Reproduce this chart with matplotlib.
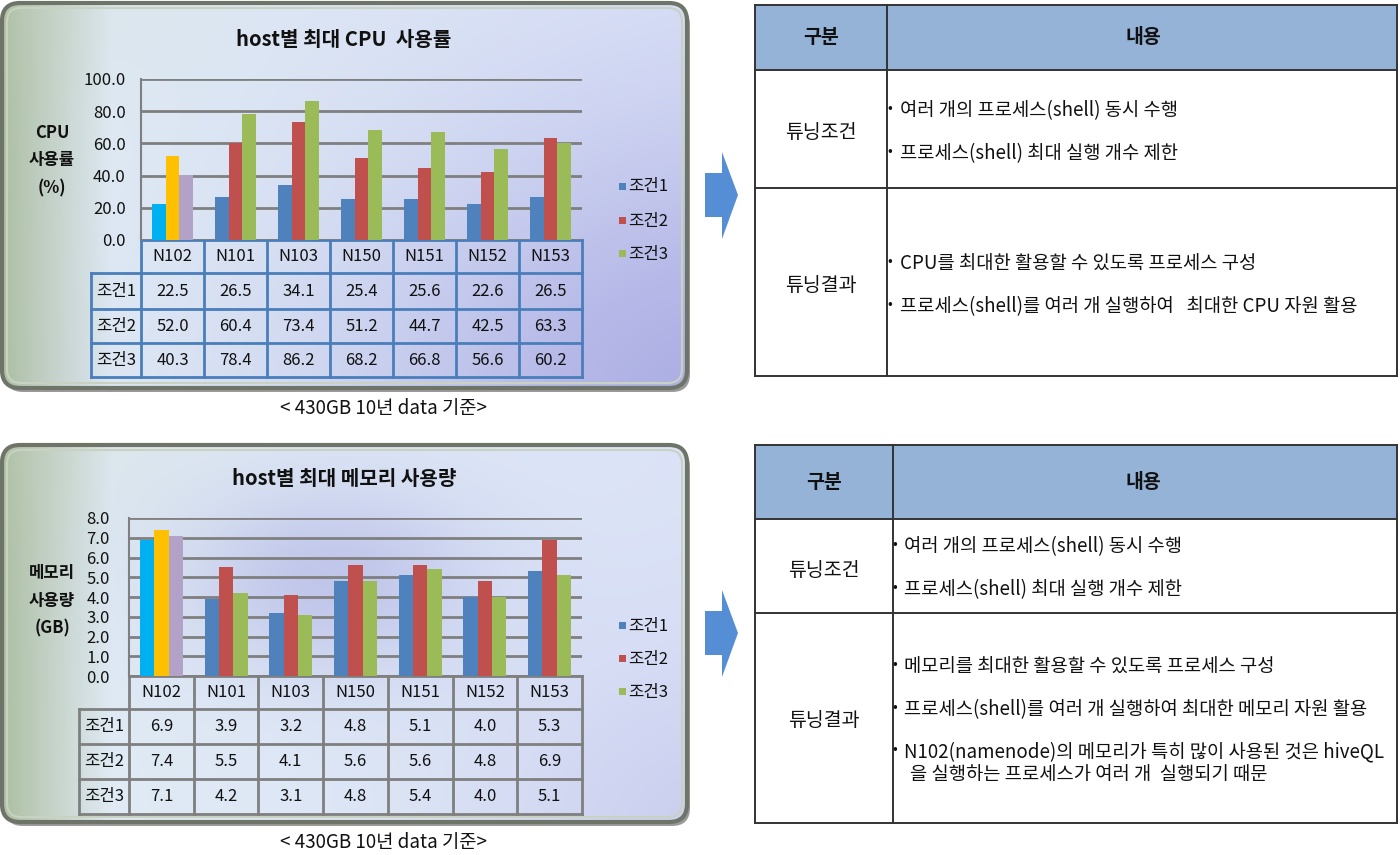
import numpy as np
import matplotlib
matplotlib.use('Agg')
import matplotlib.pyplot as plt
from matplotlib.patches import FancyBboxPatch, Rectangle, Polygon

plt.rcParams['font.family'] = ['Noto Sans CJK KR', 'DejaVu Sans']

# ---------------- data ----------------
hosts = ['N102', 'N101', 'N103', 'N150', 'N151', 'N152', 'N153']
series = ['조건1', '조건2', '조건3']
cpu_c1 = [22.5, 26.5, 34.1, 25.4, 25.6, 22.6, 26.5]
cpu_c2 = [52.0, 60.4, 73.4, 51.2, 44.7, 42.5, 63.3]
cpu_c3 = [40.3, 78.4, 86.2, 68.2, 66.8, 56.6, 60.2]
mem_c1 = [6.9, 3.9, 3.2, 4.8, 5.1, 4.0, 5.3]
mem_c2 = [7.4, 5.5, 4.1, 5.6, 5.6, 4.8, 6.9]
mem_c3 = [7.1, 4.2, 3.1, 4.8, 5.4, 4.0, 5.1]
cpu_ticks = [0, 20, 40, 60, 80, 100]
mem_ticks = [0, 1, 2, 3, 4, 5, 6, 7, 8]

cpu_title = 'host별 최대 CPU  사용률'
mem_title = 'host별 최대 메모리 사용량'
cpu_ylabel = ['CPU', '사용률', '(%)']
mem_ylabel = ['메모리', '사용량', '(GB)']
caption = '< 430GB 10년 data 기준>'

tbl_head = ['구분', '내용']
tbl_rows = ['튜닝조건', '튜닝결과']
cond_lines = ['여러 개의 프로세스(shell) 동시 수행', '프로세스(shell) 최대 실행 개수 제한']
cpu_result_lines = ['CPU를 최대한 활용할 수 있도록 프로세스 구성',
                    '프로세스(shell)를 여러 개 실행하여   최대한 CPU 자원 활용']
mem_result_lines = ['메모리를 최대한 활용할 수 있도록 프로세스 구성',
                    '프로세스(shell)를 여러 개 실행하여 최대한 메모리 자원 활용',
                    'N102(namenode)의 메모리가 특히 많이 사용된 것은 hiveQL',
                    '을 실행하는 프로세스가 여러 개  실행되기 때문']

series_colors = ['#4F81BD', '#C0504D', '#9BBB59']
highlight_colors = ['#00B0F0', '#FFC000', '#B3A2C7']

FS_CHART = 12
FS_TBL = 13.5

# ---------------- figure ----------------
W, H = 1400, 855
fig = plt.figure(figsize=(14, 8.55), dpi=100)
fig.patch.set_facecolor('white')
bg = fig.add_axes([0, 0, 1, 1])
bg.set_xlim(0, W)
bg.set_ylim(H, 0)
bg.axis('off')


def px_axes(x0, y0, x1, y1):
    return fig.add_axes([x0 / W, 1 - y1 / H, (x1 - x0) / W, (y1 - y0) / H])


def panel(x0, y0, x1, y1, glows):
    w = int(x1 - x0)
    h = int(y1 - y0)
    u = np.broadcast_to(np.linspace(0, 1, w)[None, :], (h, w))
    v = np.broadcast_to(np.linspace(0, 1, h)[:, None], (h, w))
    G = np.array([0.68, 0.75, 0.64])
    M = np.array([0.88, 0.92, 0.96])
    B = np.array([0.86, 0.89, 0.97])
    t = np.clip(u / 0.16, 0, 1)[..., None]
    s = np.clip((u - 0.16) / 0.84, 0, 1)[..., None]
    img = np.where(u[..., None] < 0.16, G * (1 - t) + M * t, M * (1 - s) + B * s)
    for cx, cy, sx, sy, wgt, col in glows:
        g = wgt * np.exp(-(((u - cx) / sx) ** 2 + ((v - cy) / sy) ** 2))[..., None]
        img = img * (1 - g) + np.array(col) * g
    sh = FancyBboxPatch((x0 + 3, y0 + 4), x1 - x0, y1 - y0,
                        boxstyle='round,pad=0,rounding_size=18',
                        fc='#9a9a9a', ec='none', zorder=0.5)
    bg.add_patch(sh)
    im = bg.imshow(np.clip(img, 0, 1), extent=(x0, x1, y1, y0), aspect='auto',
                   interpolation='bilinear', zorder=1)
    clip = FancyBboxPatch((x0, y0), x1 - x0, y1 - y0,
                          boxstyle='round,pad=0,rounding_size=18',
                          transform=bg.transData, fc='none', ec='none')
    bg.add_patch(clip)
    im.set_clip_path(clip)
    bg.add_patch(FancyBboxPatch((x0, y0), x1 - x0, y1 - y0,
                                boxstyle='round,pad=0,rounding_size=18',
                                fc='none', ec='#6f7468', lw=3, zorder=2))
    bg.add_patch(FancyBboxPatch((x0 + 5, y0 + 5), x1 - x0 - 10, y1 - y0 - 10,
                                boxstyle='round,pad=0,rounding_size=14',
                                fc='none', ec='#c9d2c0', lw=1.5, zorder=2))
    bg.set_xlim(0, W)
    bg.set_ylim(H, 0)


def chart(px0, px1, py0, py1, lab_x, row_y, c1, c2, c3, ticks, border,
          title, title_y, ylabel, ylab_y, legend_y, tick_pad):
    ax = px_axes(px0, py0, px1, py1)
    ax.set_facecolor('none')
    x = np.arange(len(hosts))
    bw = 0.222
    for i, vals in enumerate([c1, c2, c3]):
        cols = [highlight_colors[i]] + [series_colors[i]] * (len(hosts) - 1)
        ax.bar(x + (i - 1) * bw, vals, width=bw, color=cols, zorder=3)
    ax.set_xlim(-0.5, len(hosts) - 0.5)
    ax.set_ylim(ticks[0], ticks[-1])
    ax.set_yticks(ticks)
    ax.set_yticklabels([f'{t:.1f}' for t in ticks], fontsize=FS_CHART, color='#111111')
    ax.tick_params(axis='y', length=0, pad=tick_pad)
    ax.set_xticks([])
    ax.yaxis.grid(True, color='#7f7f7f', lw=2)
    ax.set_axisbelow(True)
    for s in ['top', 'right', 'bottom']:
        ax.spines[s].set_visible(False)
    ax.spines['left'].set_color('#7f7f7f')
    ax.spines['left'].set_linewidth(1.5)

    n = len(hosts)
    cw = (px1 - px0) / n
    lw = 2
    bg.plot([px0, px1], [row_y[0], row_y[0]], color=border, lw=lw, zorder=4)
    for yy in row_y[1:]:
        bg.plot([lab_x, px1], [yy, yy], color=border, lw=lw, zorder=4)
    for k in range(n + 1):
        bg.plot([px0 + k * cw] * 2, [row_y[0], row_y[-1]], color=border, lw=lw, zorder=4)
    bg.plot([lab_x, lab_x], [row_y[1], row_y[-1]], color=border, lw=lw, zorder=4)
    for k, hname in enumerate(hosts):
        cx = px0 + (k + 0.5) * cw
        bg.text(cx, (row_y[0] + row_y[1]) / 2, hname, ha='center', va='center',
                fontsize=FS_CHART, color='#111111', zorder=5)
    for r, (sname, vals) in enumerate(zip(series, [c1, c2, c3])):
        cy = (row_y[r + 1] + row_y[r + 2]) / 2
        bg.text((lab_x + px0) / 2, cy, sname, ha='center', va='center',
                fontsize=FS_CHART, color='#111111', zorder=5)
        for k, v in enumerate(vals):
            bg.text(px0 + (k + 0.5) * cw, cy, f'{v:.1f}', ha='center', va='center',
                    fontsize=FS_CHART, color='#111111', zorder=5)

    bg.text(344, title_y, title, ha='center', va='center', fontsize=14.5,
            fontweight='bold', color='#111111', zorder=5)
    for txt, yy in zip(ylabel, ylab_y):
        bg.text(52, yy, txt, ha='center', va='center', fontsize=FS_CHART,
                fontweight='bold', color='#111111', zorder=5)
    for i, (sname, yy) in enumerate(zip(series, legend_y)):
        bg.add_patch(Rectangle((619, yy - 4), 7, 7, fc=series_colors[i], ec='none', zorder=5))
        bg.text(628, yy, sname, ha='left', va='center', fontsize=FS_CHART,
                color='#111111', zorder=5)
    return ax


def arrow(cy):
    pts = [(705, cy - 22), (722, cy - 22), (722, cy - 43), (738, cy),
           (722, cy + 44), (722, cy + 22), (705, cy + 22)]
    bg.add_patch(Polygon(pts, closed=True, fc='#558ED5', ec='none', zorder=3))


def text_table(x0, xs, x1, ys, lab_y):
    bg.add_patch(Rectangle((x0, ys[0]), x1 - x0, ys[1] - ys[0], fc='#95B3D7',
                           ec='none', zorder=2))
    lc = '#333333'
    for yy in ys:
        bg.plot([x0, x1], [yy, yy], color=lc, lw=1.4, zorder=3)
    for xx in [x0, xs, x1]:
        bg.plot([xx, xx], [ys[0], ys[-1]], color=lc, lw=1.4, zorder=3)
    hy = (ys[0] + ys[1]) / 2
    bg.text((x0 + xs) / 2, hy, tbl_head[0], ha='center', va='center', fontsize=FS_TBL + 0.5,
            fontweight='bold', color='#111111', zorder=5)
    bg.text(1143, hy, tbl_head[1], ha='center', va='center', fontsize=FS_TBL + 0.5,
            fontweight='bold', color='#111111', zorder=5)
    for lab, yy in zip(tbl_rows, lab_y):
        bg.text((x0 + xs) / 2, yy, lab, ha='center', va='center',
                fontsize=FS_TBL + 0.5, color='#111111', zorder=5)


def bullets(lines, ys, x_b=890, x_t=900, cont=None):
    for i, (txt, yy) in enumerate(zip(lines, ys)):
        if cont is not None and i in cont:
            bg.text(x_t + 6, yy, txt, ha='left', va='center', fontsize=FS_TBL,
                    color='#111111', zorder=5)
        else:
            bg.text(x_b, yy - 3, '•', ha='center', va='center', fontsize=10,
                    color='#111111', zorder=5)
            bg.text(x_t, yy, txt, ha='left', va='center', fontsize=FS_TBL,
                    color='#111111', zorder=5)


panel(2, 3, 687, 388, [(1.05, 1.05, 0.55, 0.75, 0.75, (0.62, 0.62, 0.87)),
                       (0.05, 0.0, 0.25, 0.25, 0.15, (0.75, 0.80, 0.72))])
panel(2, 445, 687, 822, [(0.48, 0.36, 0.22, 0.25, 0.55, (0.66, 0.67, 0.88)),
                         (1.05, 1.05, 0.35, 0.5, 0.45, (0.72, 0.72, 0.90)),
                         (0.05, 0.0, 0.25, 0.25, 0.15, (0.75, 0.80, 0.72))])

chart(141, 582, 79, 240, 91, [240, 273, 309, 343, 377], cpu_c1, cpu_c2, cpu_c3,
      cpu_ticks, '#4A7EBB', cpu_title, 40, cpu_ylabel, [133, 160, 188],
      [187, 221, 254], 11)
chart(129, 582, 518, 676, 79, [676, 709, 744, 779, 814], mem_c1, mem_c2, mem_c3,
      mem_ticks, '#7f7f7f', mem_title, 478, mem_ylabel, [573, 601, 628],
      [626, 659, 692], 14)

bg.text(383, 408, caption, ha='center', va='center', fontsize=13.5, color='#111111')
bg.text(383, 842, caption, ha='center', va='center', fontsize=13.5, color='#111111')

arrow(195)
arrow(633)

text_table(755, 887, 1397, [5, 70, 188, 376], [133, 285])
bullets(cond_lines, [111, 154])
bullets(cpu_result_lines, [264, 307])

text_table(755, 893, 1397, [445, 519, 613, 823], [570, 720])
bullets(cond_lines, [547, 590], x_b=895, x_t=904)
bullets(mem_result_lines, [667, 710, 752, 774], x_b=895, x_t=904, cont={3})

fig.savefig('out.png', dpi=100, facecolor='white')
